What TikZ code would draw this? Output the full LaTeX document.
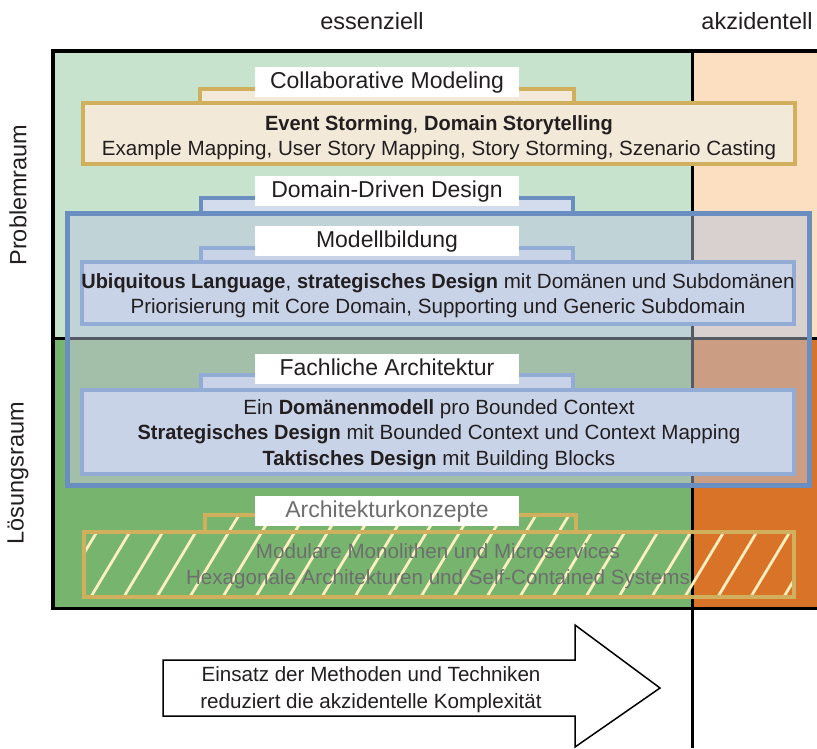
\documentclass[tikz,border=0pt]{standalone}
\usepackage{fontspec}
\setmainfont{Liberation Sans}[BoldFeatures={FakeStretch=0.97}]
\definecolor{qTL}{HTML}{C8E3CD}
\definecolor{qTR}{HTML}{FCDFC0}
\definecolor{qBL}{HTML}{77B56F}
\definecolor{qBR}{HTML}{D87327}
\definecolor{oTL}{HTML}{C0D4D8}
\definecolor{oTR}{HTML}{D8D1D0}
\definecolor{oBL}{HTML}{A3BFAA}
\definecolor{oBR}{HTML}{CB9E84}
\definecolor{dddblue}{HTML}{6B8EC0}
\definecolor{dddtab}{HTML}{D3DCEC}
\definecolor{inblue}{HTML}{93ACD5}
\definecolor{inbluefill}{HTML}{C8D3E8}
\definecolor{gold}{HTML}{D0B05C}
\definecolor{goldfill}{HTML}{F2E9D9}
\definecolor{hatchc}{HTML}{FBEFC0}
\definecolor{gridgray}{HTML}{555B64}
\definecolor{txt}{HTML}{231F20}
\definecolor{graytxt}{HTML}{6E6E6E}
\begin{document}
\begin{tikzpicture}[x=1pt,y=-1pt,
  lbl/.style={fill=white,minimum width=264pt,minimum height=30pt,inner sep=0pt,text height=17pt,text depth=5pt,text=txt,font=\fontsize{23}{27}\selectfont},
  body/.style={align=center,inner sep=0pt,text=txt,font=\fontsize{20.6}{25.5}\selectfont},
  axis/.style={inner sep=0pt,text=txt,font=\fontsize{23.5}{27}\selectfont},
  goldbox/.style={draw=gold,fill=goldfill,line width=4.5pt},
  bluebox/.style={draw=inblue,fill=inbluefill,line width=4.5pt},
  hatchline/.style={draw=hatchc,line width=2.8pt}]
\useasboundingbox (0,0) rectangle (817,748);
% quadrants
\fill[qTL] (53,51) rectangle (692,338);
\fill[qTR] (692,51) rectangle (817,338);
\fill[qBL] (53,338) rectangle (692,608);
\fill[qBR] (692,338) rectangle (817,608);
% DDD overlay
\begin{scope}
  \clip (67,213) rectangle (809,485);
  \fill[oTL] (53,51) rectangle (692,338);
  \fill[oTR] (692,51) rectangle (817,338);
  \fill[oBL] (53,338) rectangle (692,608);
  \fill[oBR] (692,338) rectangle (817,608);
\end{scope}
% grid lines
\draw[line width=3pt] (692,51) -- (692,748);
\draw[line width=3pt] (53,338) -- (817,338);
\draw[gridgray,line width=3pt] (692,215) -- (692,483);
\draw[gridgray,line width=3pt] (69,338) -- (807,338);
% frame
\draw[line width=4pt] (53,610) -- (53,51) -- (817,51);
\draw[line width=3.5pt] (51,608.5) -- (817,608.5);
% DDD box
\filldraw[draw=dddblue,fill=dddtab,line width=4.5pt] (201,213) rectangle (573,198);
\draw[dddblue,line width=5pt] (67,213) rectangle (809,485);
% Collaborative Modeling
\filldraw[goldbox] (200,103) rectangle (574,89);
\filldraw[goldbox] (83,103) rectangle (795,164);
% Modellbildung
\filldraw[bluebox] (201,262) rectangle (573,248);
\filldraw[bluebox] (82,262) rectangle (794,324);
% Fachliche Architektur
\filldraw[bluebox] (201,390) rectangle (573,375);
\filldraw[bluebox] (82,390) rectangle (794,474);
% Architekturkonzepte hatch
\begin{scope}
  \clip (205,515) rectangle (576,532) (84,532) rectangle (794,597);
  \foreach \x in {20,53,...,860} {
    \draw[hatchline] (\x,605) -- ++(60,-100);
  }
\end{scope}
\draw[gold,line width=4.5pt] (205,532) -- (205,515) -- (576,515) -- (576,532);
\draw[gold,line width=4.5pt] (84,532) rectangle (794,597);
% labels
\node[lbl] (collabL) at (387,82) {Collaborative Modeling};
\node[lbl] (dddL) at (387,191) {Domain-Driven Design};
\node[lbl] (modL) at (387,241) {Modellbildung};
\node[lbl] (fachL) at (387,369) {Fachliche Architektur};
\node[lbl,text=graytxt] (archL) at (387,511) {Architekturkonzepte};
% body texts
\node[body] (collabT) at (439,137.5) {\textbf{Event Storming}, \textbf{Domain Storytelling}\\Example Mapping, User Story Mapping, Story Storming, Szenario Casting};
\node[body] (modT) at (438,295.5) {\textbf{Ubiquitous Language}, \textbf{strategisches Design} mit Domänen und Subdomänen\\Priorisierung mit Core Domain, Supporting und Generic Subdomain};
\node[body] (fachT) at (439,434.5) {Ein \textbf{Domänenmodell} pro Bounded Context\\\textbf{Strategisches Design} mit Bounded Context und Context Mapping\\\textbf{Taktisches Design} mit Building Blocks};
\node[body,text=graytxt] (archT) at (438,566) {Modulare Monolithen und Microservices\\Hexagonale Architekturen und Self-Contained Systems};
% axis labels
\node[axis] (ess) at (372,21) {essenziell};
\node[axis] (akz) at (757,21) {akzidentell};
\node[axis,rotate=90] (prob) at (18,195) {Problemraum};
\node[axis,rotate=90] (loes) at (18,473) {Lösungsraum};
% arrow
\draw[line width=1.5pt,fill=white,line join=miter] (163,660) -- (575,660) -- (575,625) -- (660,688) -- (575,747) -- (575,716) -- (163,716) -- cycle;
\node[align=center,inner sep=0pt,text=txt,font=\fontsize{20.6}{27}\selectfont] (arrT) at (371,690) {Einsatz der Methoden und Techniken\\reduziert die akzidentelle Komplexität};
\end{tikzpicture}
\end{document}
